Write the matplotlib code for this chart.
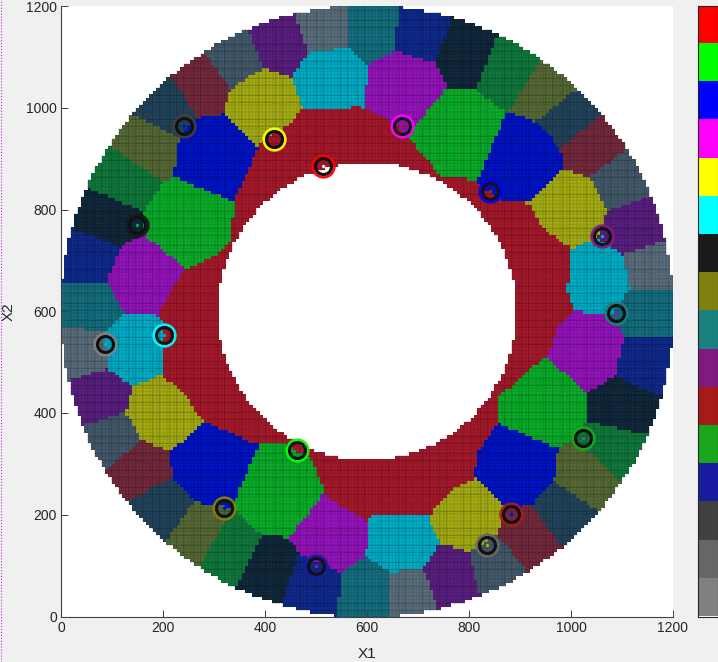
import numpy as np
import matplotlib
matplotlib.use("Agg")
import matplotlib.pyplot as plt
from matplotlib.colors import ListedColormap
from matplotlib.lines import Line2D
from matplotlib.path import Path

plt.rcParams['font.family'] = ['Liberation Sans', 'DejaVu Sans']

# ==== CELL SITES ====
inner_x = [393, 528, 674, 785, 915, 1008, 1064, 1044, 954, 900, 799, 672, 530, 426, 287, 192, 138, 154, 242, 298]
inner_y = [1015, 1065, 1052, 961, 908, 808, 668, 523, 417, 287, 190, 137, 153, 234, 293, 399, 527, 668, 778, 912]
inner_cols = ['#a5ad13', '#00aec8', '#9614bd', '#0bae2a', '#0014c8'] * 4

outer_x = [514, 616, 704, 798, 880, 959, 998, 1047, 1100, 1129, 1155, 1155, 1149, 1110, 1092, 1037, 992, 920, 855, 767,
           680, 606, 488, 410, 325, 267, 194, 149, 96, 71, 43, 51, 51, 82, 116, 161, 200, 273, 337, 429]
outer_y = [1162, 1162, 1153, 1117, 1084, 1035, 986, 927, 858, 766, 687, 602, 498, 412, 327, 268, 200, 150, 97, 76,
           46, 46, 58, 85, 125, 156, 209, 288, 347, 431, 524, 608, 707, 785, 864, 930, 1009, 1054, 1100, 1133]
outer_cols = ['#5a6e7c', '#156f80', '#0f2a8c', '#10293c', '#0f7a3c', '#566a35', '#23455c', '#742a3c', '#435a6c', '#5a1f80'] * 4

# outline of the dark red band
band_x = [192, 237, 298, 335, 341, 386, 394, 453, 473, 533, 586, 645, 688, 743, 816, 825, 867, 920, 945, 998,
          994, 1008, 975, 959, 857, 857, 816, 812, 759, 727, 620, 600, 522, 494, 435, 376, 273, 249, 200, 204]
band_y = [597, 677, 707, 740, 822, 917, 936, 970, 1001, 995, 1005, 976, 936, 868, 858, 844, 819, 813, 765, 726,
          636, 606, 567, 520, 431, 380, 321, 274, 243, 203, 203, 190, 235, 308, 343, 341, 390, 431, 475, 563]
band_col = '#a6192b'

# ==== NODES ====
node_x = [514, 463, 841, 669, 418, 202, 149, 320, 1088, 1061, 882, 1024, 500, 241, 835, 86]
node_y = [885, 327, 836, 964, 938, 553, 769, 213, 596, 748, 201, 351, 99, 964, 141, 536]
node_cols = ['#ff0000', '#00ff00', '#0000ff', '#ff00ff', '#ffff00', '#00ffff', '#1a1a1a', '#808010',
             '#1a8080', '#801a80', '#a61a1a', '#1aa61a', '#1a1aa0', '#404040', '#666666', '#808080']
dot_cols = ['#e8d8d8', '#a6192b', '#a6192b', '#a6192b', '#a6192b', '#1aa0a0', '#0bae2a', '#0014c8',
            '#9614bd', '#00aec8', '#0014c8', '#666666', '#9614bd', '#0014c8', '#a5ad13', '#00aec8']

site_x = np.array(inner_x + outer_x, dtype=float)
site_y = np.array(inner_y + outer_y, dtype=float)
site_cols = inner_cols + outer_cols + [band_col]

# ==== GRID ====
STEP = 6.7
gx = np.arange(0, 1200 + STEP, STEP)
cx = (gx[:-1] + gx[1:]) / 2
X, Y = np.meshgrid(cx, cx)
R = np.hypot(X - 600, Y - 600)
D = (X[..., None] - site_x) ** 2 + (Y[..., None] - site_y) ** 2
idx = np.argmin(D, axis=2).astype(float)
in_band = Path(np.column_stack([band_x, band_y])).contains_points(np.column_stack([X.ravel(), Y.ravel()]))
idx[in_band.reshape(X.shape)] = len(site_cols) - 1
idx = np.ma.masked_where((R > 600) | (R < 294), idx)

W, H = 718, 662
fig = plt.figure(figsize=(W / 100, H / 100), dpi=100, facecolor='#f0f0f0')
ax = fig.add_axes([61 / W, 1 - 616.5 / H, 612 / W, 610.5 / H], facecolor='white')
ax.pcolor(gx, gx, idx, cmap=ListedColormap(site_cols), vmin=-0.5, vmax=len(site_cols) - 0.5,
          edgecolors=(0, 0, 0, 0.1), linewidth=0.5, antialiased=False)

for x, y, c, d in zip(node_x, node_y, node_cols, dot_cols):
    ax.plot(x, y, 'o', ms=15.5, mfc='none', mec=c, mew=2.0, alpha=0.95)
    ax.plot(x, y, 'o', ms=11.5, mfc='none', mec='#111111', mew=2.2)
    ax.plot(x, y, 'o', ms=2.5, mfc=d, mec='none')

ax.set_xlim(0, 1200)
ax.set_ylim(0, 1200)
ax.set_xticks(range(0, 1201, 200))
ax.set_yticks(range(0, 1201, 200))
ax.tick_params(direction='in', length=5, width=0.7, color='#404040', labelcolor='#262626', labelsize=10, pad=3)
for s in ['top', 'right']:
    ax.spines[s].set_visible(False)
for s in ['left', 'bottom']:
    ax.spines[s].set_linewidth(0.8)
    ax.spines[s].set_color('#404040')
ax.set_xlabel('X1', fontsize=11, color='#262626', labelpad=9)
ax.set_ylabel('X2', fontsize=11, color='#262626', labelpad=7)

# colorbar
cax = fig.add_axes([697.5 / W, 1 - 616.5 / H, 20 / W, 610.5 / H])
cax.imshow(np.arange(len(node_cols))[:, None], cmap=ListedColormap(node_cols), aspect='auto', interpolation='nearest')
cax.set_xticks([])
cax.set_yticks([])
for s in cax.spines.values():
    s.set_linewidth(0.8)
    s.set_color('#262626')

fig.add_artist(Line2D([0.5 / W, 0.5 / W], [0, 1], color='#b040c0', lw=0.8, ls=':'))

fig.savefig('out.png', dpi=100, facecolor=fig.get_facecolor())
